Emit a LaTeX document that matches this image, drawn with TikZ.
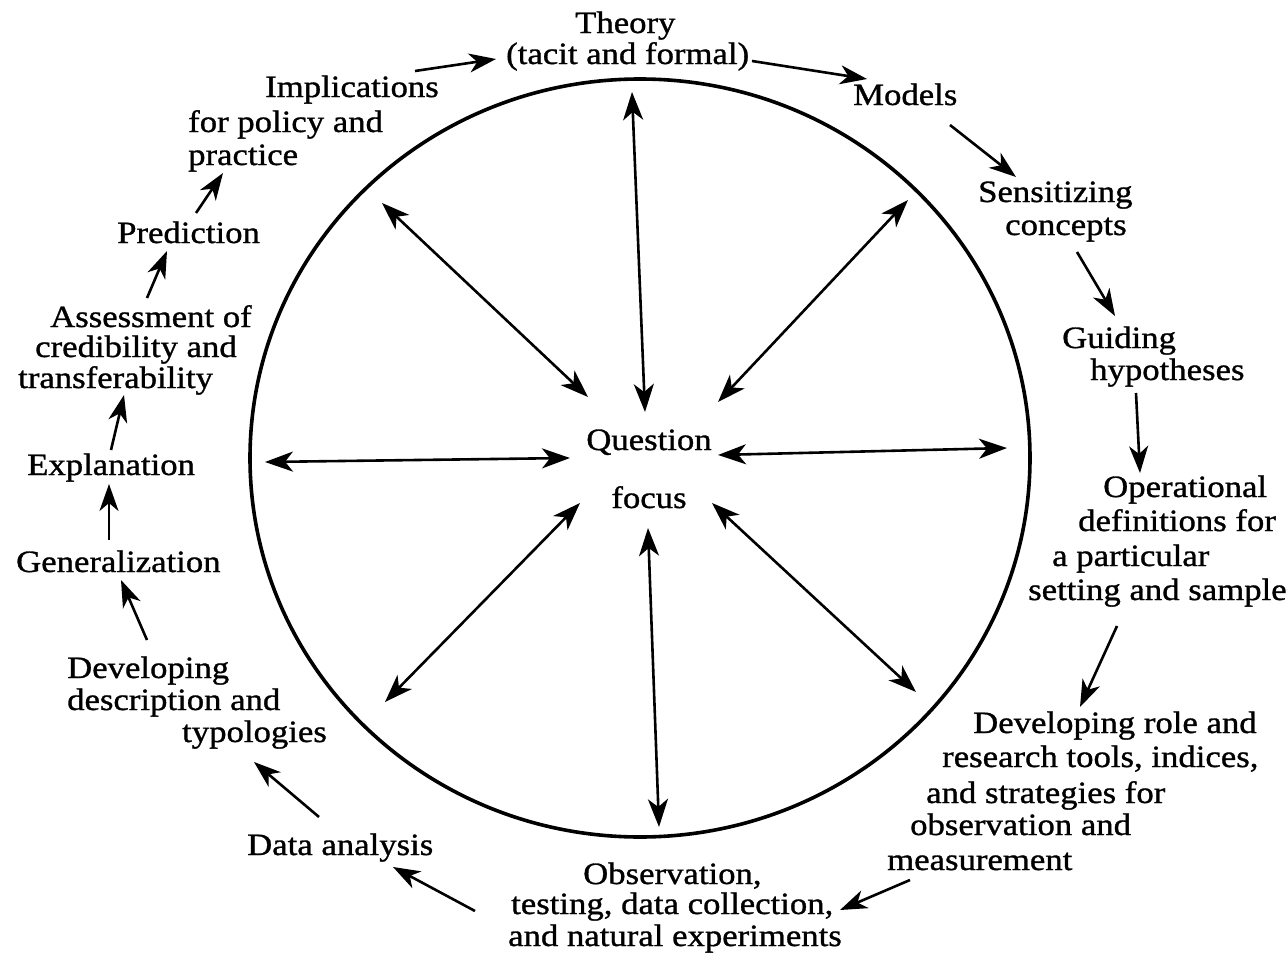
\documentclass[tikz,border=0pt]{standalone}
\usepackage{fontspec}
\setmainfont{Liberation Serif}[FakeStretch=1.12,FakeBold=1]
\usetikzlibrary{arrows.meta}
\begin{document}
\begin{tikzpicture}[x=1pt,y=-1pt,
  lbl/.style={inner sep=0pt, anchor=base west, align=left, font=\fontsize{31}{33}\selectfont},
  flow/.style={line width=2.6pt, -{Stealth[length=27pt,width=19pt,inset=8pt]}},
  dbl/.style={line width=2.6pt, {Stealth[length=28pt,width=20pt,inset=8pt]}-{Stealth[length=28pt,width=20pt,inset=8pt]}}]
\useasboundingbox[fill=white] (0,0) rectangle (1288,958);

% circle
\coordinate (c) at (640,458);
\draw[line width=3.6pt] (c) ellipse [x radius=390, y radius=379];

% centre text (base anchor = baseline of last line)
\node[lbl, anchor=base, align=center] (q) at (649,508) {Question\\[25pt]focus};

% labels (anchor base west = left end of the last line's baseline)
\node[lbl] (theory) at (506,64) {\hspace*{69pt}Theory\\[-2pt](tacit and formal)};
\node[lbl] (models) at (853,105) {Models};
\node[lbl] (sens) at (978,235) {Sensitizing\\[0pt]\hspace*{27pt}concepts};
\node[lbl] (guid) at (1062,380) {Guiding\\[-1pt]\hspace*{28pt}hypotheses};
\node[lbl] (oper) at (1028,600) {\hspace*{75pt}Operational\\[1pt]\hspace*{50pt}definitions for\\[2pt]\hspace*{24pt}a particular\\[1pt]setting and sample};
\node[lbl] (role) at (887,870) {\hspace*{86pt}Developing role and\\[1pt]\hspace*{55pt}research tools, indices,\\[3pt]\hspace*{39pt}and strategies for\\[-1pt]\hspace*{23pt}observation and\\[2pt]measurement};
\node[lbl] (obs) at (508,946) {\hspace*{75pt}Observation,\\[-3pt]\hspace*{3pt}testing, data collection,\\[-1pt]and natural experiments};
\node[lbl] (data) at (247,855) {Data analysis};
\node[lbl] (desc) at (67,742) {Developing\\[-1pt]description and\\[-1pt]\hspace*{115pt}typologies};
\node[lbl] (gen) at (16,572) {Generalization};
\node[lbl] (expl) at (27,475) {Explanation};
\node[lbl] (assess) at (18,388) {\hspace*{32pt}Assessment of\\[-3pt]\hspace*{17pt}credibility and\\[-2pt]transferability};
\node[lbl] (pred) at (117,243) {Prediction};
\node[lbl] (impl) at (188,165) {\hspace*{77pt}Implications\\[2pt]for policy and\\[0pt]practice};

% radial double arrows
\coordinate (u1) at (632,92);   \coordinate (u2) at (645,412);
\coordinate (ur1) at (908,200); \coordinate (ur2) at (718,402);
\coordinate (r1) at (1007,448); \coordinate (r2) at (718,455);
\coordinate (dr1) at (916,692); \coordinate (dr2) at (712,503);
\coordinate (d1) at (659,827);  \coordinate (d2) at (648,528);
\coordinate (dl1) at (385,702); \coordinate (dl2) at (580,503);
\coordinate (l1) at (265,462);  \coordinate (l2) at (570,458);
\coordinate (ul1) at (382,203); \coordinate (ul2) at (588,397);
\foreach \a in {u,ur,r,dr,d,dl,l,ul}{\draw[dbl] (\a1) -- (\a2);}

% cycle arrows
\coordinate (a1s) at (415,71);   \coordinate (a1e) at (496,59);
\coordinate (a2s) at (752,61);   \coordinate (a2e) at (867,79);
\coordinate (a3s) at (950,125);  \coordinate (a3e) at (1016,177);
\coordinate (a4s) at (1077,252); \coordinate (a4e) at (1115,316);
\coordinate (a5s) at (1136,393); \coordinate (a5e) at (1140,473);
\coordinate (a6s) at (1117,626); \coordinate (a6e) at (1080,707);
\coordinate (a7s) at (910,880);  \coordinate (a7e) at (840,910);
\coordinate (a8s) at (475,911);  \coordinate (a8e) at (393,867);
\coordinate (a9s) at (319,817);  \coordinate (a9e) at (254,762);
\coordinate (a10s) at (147,640); \coordinate (a10e) at (121,580);
\coordinate (a11s) at (109,540); \coordinate (a11e) at (109,484);
\coordinate (a12s) at (111,450); \coordinate (a12e) at (124,395);
\coordinate (a13s) at (147,298); \coordinate (a13e) at (167,251);
\coordinate (a14s) at (196,213); \coordinate (a14e) at (223,173);
\foreach \i in {1,...,14}{\draw[flow] (a\i s) -- (a\i e);}
\end{tikzpicture}
\end{document}
